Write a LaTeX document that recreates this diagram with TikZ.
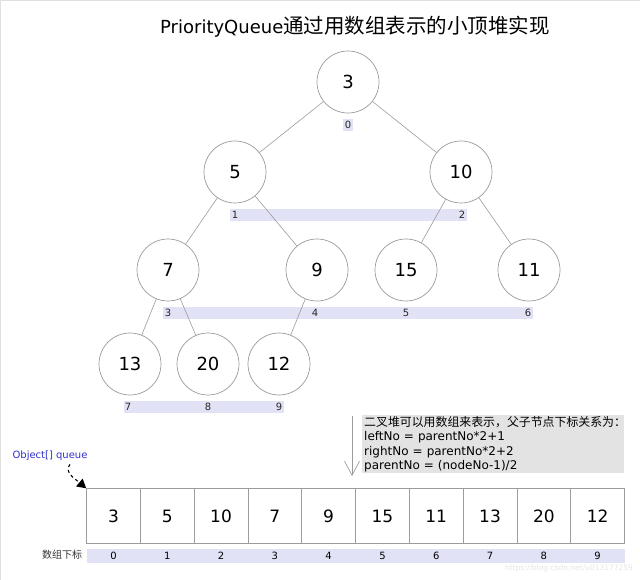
\documentclass[tikz,border=0pt]{standalone}
\usepackage{fontspec}
\setmainfont{DejaVu Sans}
\newfontfamily\cjk{Noto Sans CJK SC}
\usetikzlibrary{matrix,arrows.meta}
\definecolor{band}{RGB}{226,226,246}
\definecolor{notegray}{RGB}{227,227,227}
\definecolor{linegray}{RGB}{155,155,155}
\definecolor{qblue}{RGB}{48,48,200}
\tikzset{
  heapnode/.style={circle, draw=linegray, line width=0.7pt, minimum size=62pt, inner sep=0pt, font=\fontsize{18}{21}\selectfont},
  idx/.style={font=\fontsize{10}{12}\selectfont, inner sep=1pt, text=black!85},
  idxband/.style={fill=band, draw=none},
  edge/.style={draw=linegray, line width=0.6pt},
}

\begin{document}
\begin{tikzpicture}[x=1pt,y=-1pt]
  \useasboundingbox (0,0) rectangle (640,580);
  \draw[gray!25] (0.5,580) -- (0.5,0.5) -- (640,0.5);
  \node (title) at (355,27) {\fontsize{18}{22}\selectfont PriorityQueue\cjk\fontsize{20.5}{22}\selectfont 通过用数组表示的小顶堆实现};

  % index bands
  \path[idxband] (343,119) rectangle (353,131);
  \path[idxband] (230,209) rectangle (467,221);
  \path[idxband] (163,307) rectangle (533,319);
  \path[idxband] (124,401) rectangle (284,413);

  % heap
  \node[heapnode] (n0) at (348,82) {3};
  \node[heapnode] (n1) at (235,172) {5};
  \node[heapnode] (n2) at (461,172) {10};
  \node[heapnode] (n3) at (168,270) {7};
  \node[heapnode] (n4) at (317,270) {9};
  \node[heapnode] (n5) at (406,270) {15};
  \node[heapnode] (n6) at (529,270) {11};
  \node[heapnode] (n7) at (130,364) {13};
  \node[heapnode] (n8) at (208,364) {20};
  \node[heapnode] (n9) at (279,364) {12};

  \node[idx] (i0) at (348,125) {0};
  \node[idx] (i1) at (235,215) {1};
  \node[idx] (i2) at (462,215) {2};
  \node[idx] (i3) at (168,313) {3};
  \node[idx] (i4) at (315,313) {4};
  \node[idx] (i5) at (406,313) {5};
  \node[idx] (i6) at (528,313) {6};
  \node[idx] (i7) at (128,407) {7};
  \node[idx] (i8) at (208,407) {8};
  \node[idx] (i9) at (279,407) {9};

  \path[edge] (n0) -- (n1);
  \path[edge] (n0) -- (n2);
  \path[edge] (n1) -- (n3);
  \path[edge] (n1) -- (n4);
  \path[edge] (n2) -- (n5);
  \path[edge] (n2) -- (n6);
  \path[edge] (n3) -- (n7);
  \path[edge] (n3) -- (n8);
  \path[edge] (n4) -- (n9);

  % array
  \matrix(arr)[matrix of nodes, ampersand replacement=\&, anchor=north west, inner sep=0pt,
    column sep=-0.7pt, row sep=5pt,
    nodes={draw=linegray, line width=0.7pt, minimum width=53.8pt, minimum height=55pt, inner sep=0pt, font=\fontsize{17}{20}\selectfont},
    row 2/.style={nodes={draw=none, fill=band, minimum height=14pt, font=\fontsize{10}{12}\selectfont}}] at (86,488) {
      3 \& 5 \& 10 \& 7 \& 9 \& 15 \& 11 \& 13 \& 20 \& 12 \\
      0 \& 1 \& 2 \& 3 \& 4 \& 5 \& 6 \& 7 \& 8 \& 9 \\ };
  \node[font=\cjk\fontsize{10}{12}\selectfont, text=black!80] (arrlab) at (62,555) {数组下标};

  \node[text=qblue, font=\fontsize{10}{12}\selectfont] (qlab) at (50,456) {Object[] queue};
  \draw[dashed, line width=1.1pt, -{Triangle[length=9pt,width=10pt]}]
    ([xshift=20pt]qlab.south) .. controls (64,472) and (74,478) .. (arr-1-1.north west);

  % note
  \node[fill=notegray, anchor=north west, text width=258pt, minimum height=58pt, inner xsep=2pt, inner ysep=1pt,
    align=left, font=\fontsize{12}{14.5}\selectfont] (note) at (362,415)
    {{\cjk\fontsize{11.9}{14.5}\selectfont 二叉堆可以用数组来表示，父子节点下标关系为：}\\
     leftNo = parentNo*2+1\\
     rightNo = parentNo*2+2\\
     parentNo = (nodeNo-1)/2};
  \coordinate (ntop) at (352,416);
  \coordinate (nbot) at (352,476);
  \draw[linegray, line width=0.7pt, -{Straight Barb[length=14pt,width=15pt]}] (ntop) -- (nbot);

  \node[text=black!10, font=\fontsize{7.5}{9}\selectfont] (wm) at (569,568) {https://blog.csdn.net/u013177259};
\end{tikzpicture}
\end{document}
